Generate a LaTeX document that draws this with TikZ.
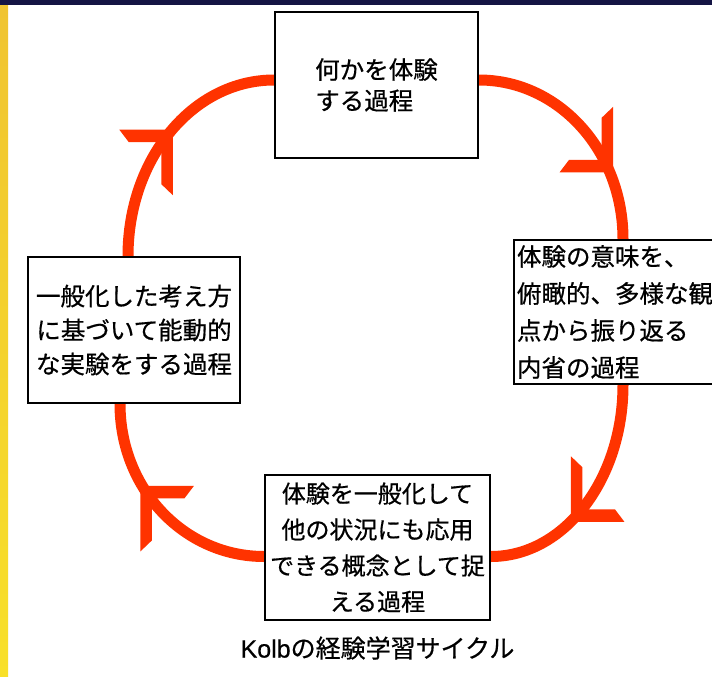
\documentclass[tikz,border=0pt]{standalone}
\usepackage{fontspec}
\setmainfont{Noto Sans CJK JP}[FakeBold=0.6]
\newfontfamily\latinsans{Liberation Sans}[FakeBold=0.6]
\usetikzlibrary{calc,backgrounds}
\definecolor{kred}{RGB}{255,51,0}
\definecolor{knavy}{RGB}{20,20,68}
\definecolor{kyeltop}{RGB}{240,196,48}
\definecolor{kyelbot}{RGB}{248,224,40}
\tikzset{
  box/.style={draw=black, line width=1.8pt, fill=white, inner sep=3pt},
  cyc/.style={draw=kred, line width=11pt},
  pics/khead/.style args={#1/#2}{code={%
    \fill[kred,xscale=#1,yscale=#2] (6,6.5) -- (-47.5,6.5) -- (-38,-6) -- (-5.5,-6) -- (-5.5,-48) -- (6,-59) -- cycle;}},
}
\begin{document}
\begin{tikzpicture}[x=1pt,y=-1pt]
\useasboundingbox (0,0) rectangle (712,677);
% boxes
\node[box, minimum width=203pt, minimum height=146pt, align=left,
      font=\fontsize{24.5pt}{31pt}\selectfont] (exper) at (376.5,85) {何かを体験\\する過程};
\node[box, minimum width=218pt, minimum height=144pt, text width=212pt, align=left,
      font=\fontsize{24.5pt}{37pt}\selectfont] (refl) at (623,312)
      {体験の意味を、\\俯瞰的、多様な観\\点から振り返る\\内省の過程};
\node[box, minimum width=212pt, minimum height=146pt, align=center,
      font=\fontsize{24.5pt}{34pt}\selectfont] (act) at (134,330)
      {一般化した考え方\\に基づいて能動的\\な実験をする過程};
\node[box, minimum width=225pt, minimum height=145pt, align=center,
      font=\fontsize{24pt}{36pt}\selectfont] (gen) at (377.5,547.5)
      {体験を一般化して\\他の状況にも応用\\できる概念として捉\\える過程};
\node[font=\fontsize{25pt}{30pt}\selectfont, inner sep=0pt] (cap) at (377.5,648)
      {{\latinsans Kolb}の経験学習サイクル};
\begin{scope}[on background layer]
  \fill[white] (0,0) rectangle (712,677);
  \fill[knavy] (0,0) rectangle (712,5.5);
  \shade[top color=kyeltop, bottom color=kyelbot] (0,5.5) rectangle (8,677);
  % cycle connectors
  \draw[cyc] ($(exper.east)+(0,-5)$) .. controls +(80,0) and +(0,-88) .. (refl.north)
        coordinate[pos=0.70] (h1);
  \draw[cyc] (refl.south) .. controls +(0,95) and +(73,0) .. ($(gen.east)+(0,9)$)
        coordinate[pos=0.55] (h2);
  \draw[cyc] ($(gen.west)+(0,9)$) .. controls +(-80,0) and +(0,85) .. ($(act.south)+(-14,0)$)
        coordinate[pos=0.61] (h3);
  \draw[cyc] ($(act.north)+(-6,0)$) .. controls +(0,-98) and +(-81,0) .. ($(exper.west)+(0,-5)$)
        coordinate[pos=0.475] (h4);
  \pic at (h1) {khead=1/1};
  \pic at (h2) {khead=-1/1};
  \pic at (h3) {khead=-1/-1};
  \pic at (h4) {khead=1/-1};
\end{scope}
\end{tikzpicture}
\end{document}
